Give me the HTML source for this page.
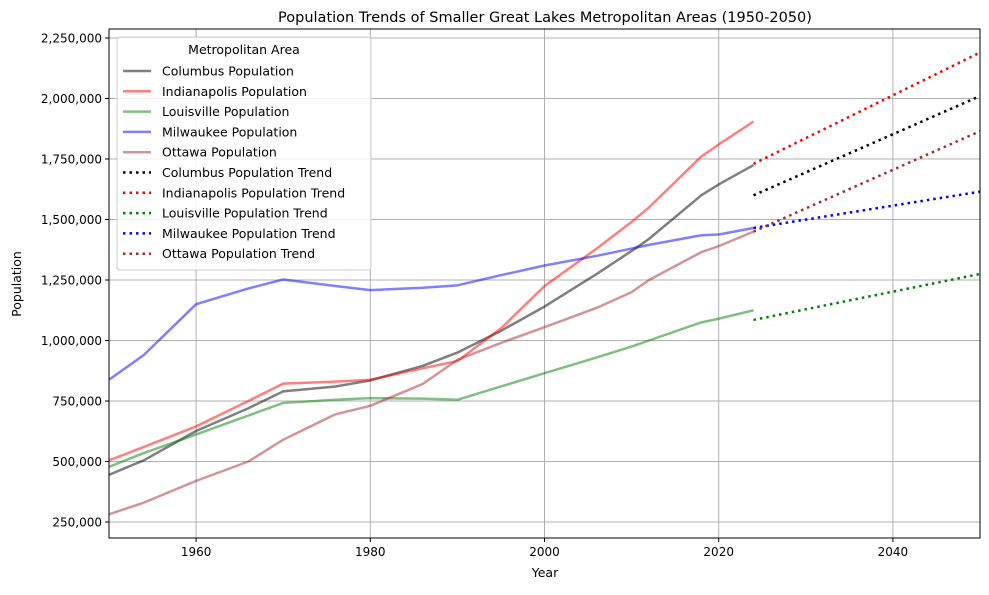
<!DOCTYPE html>
<html><head><meta charset="utf-8"><style>
body{margin:0;background:#fff;font-family:"Liberation Sans","DejaVu Sans",sans-serif}
svg text{font-family:"DejaVu Sans","Liberation Sans",sans-serif}
</style></head><body>
<svg id="c" width="989" height="590"></svg>
<script>
const years=[1950,1954,1960,1966,1970,1976,1980,1986,1990,1995,2000,2006,2010,2012,2018,2020,2024];
const columbus=[445000,505000,626000,720000,790000,810000,835000,895000,950000,1040000,1140000,1275000,1370000,1420000,1600000,1645000,1725000];
const indianapolis=[505000,560000,645000,750000,822000,830000,838000,885000,915000,1050000,1225000,1380000,1490000,1550000,1760000,1810000,1905000];
const louisville=[478000,535000,612000,690000,742000,755000,762000,760000,755000,810000,865000,930000,975000,1000000,1075000,1090000,1125000];
const milwaukee=[838000,940000,1150000,1215000,1252000,1225000,1208000,1218000,1228000,1270000,1310000,1350000,1380000,1395000,1435000,1438000,1465000];
const ottawa=[282000,330000,420000,500000,590000,695000,730000,820000,920000,990000,1055000,1135000,1200000,1250000,1365000,1390000,1450000];
const trendYears=[2024,2050];
const colTrend=[1600000,2010000];
const indTrend=[1730000,2190000];
const louTrend=[1085000,1275000];
const milTrend=[1465000,1615000];
const otwTrend=[1450000,1865000];
const yTicks=[250000,500000,750000,1000000,1250000,1500000,1750000,2000000,2250000];
const xTicks=[1960,1980,2000,2020,2040];

const L=109,R=980,T=29,B=538;
const x=v=>L+(v-1950)/100*(R-L);
const y=v=>522-(v-250000)*484/2000000;
const svg=document.getElementById('c');
const NS='http://www.w3.org/2000/svg';
function mk(t,a,p){const e=document.createElementNS(NS,t);for(const k in a)e.setAttribute(k,a[k]);(p||svg).appendChild(e);return e;}
const fmt=v=>v.toLocaleString('en-US');

xTicks.forEach(t=>{const g=mk('line',{x1:x(t),x2:x(t),y1:T,y2:B,stroke:'#b0b0b0','stroke-width':1});


const tl=mk('text',{x:x(t),y:556,'text-anchor':'middle','font-size':12});tl.textContent=t;


mk('line',{x1:x(t),x2:x(t),y1:B,y2:B+4,stroke:'#000'});});
yTicks.forEach(t=>{const g=mk('line',{x1:L,x2:R,y1:y(t),y2:y(t),stroke:'#b0b0b0','stroke-width':1});


const tl=mk('text',{x:102,y:y(t)+4.5,'text-anchor':'end','font-size':12});tl.textContent=fmt(t);


mk('line',{x1:L-4,x2:L,y1:y(t),y2:y(t),stroke:'#000'});});

const series=[['Columbus',columbus,colTrend,'rgba(0,0,0,0.5)','#000'],
['Indianapolis',indianapolis,indTrend,'rgba(255,0,0,0.5)','#f00'],
['Louisville',louisville,louTrend,'rgba(0,128,0,0.5)','#008000'],
['Milwaukee',milwaukee,milTrend,'rgba(0,0,255,0.5)','#00f'],
['Ottawa',ottawa,otwTrend,'rgba(165,42,42,0.5)','#a52a2a']];
const clip=mk('clipPath',{id:'pc'});mk('rect',{x:L,y:T,width:R-L,height:B-T},clip);
series.forEach(s=>{
const p=mk('polyline',{points:years.map((yr,i)=>x(yr)+','+y(s[1][i])).join(' '),fill:'none',stroke:s[3],'stroke-width':2.5,'stroke-linejoin':'round','clip-path':'url(#pc)'});


});
series.forEach(s=>{
const p=mk('polyline',{points:trendYears.map((yr,i)=>x(yr)+','+y(s[2][i])).join(' '),fill:'none',stroke:s[4],'stroke-width':2.5,'stroke-dasharray':'2.5 4','clip-path':'url(#pc)'});


});
const fr=mk('rect',{x:L,y:T,width:R-L,height:B-T,fill:'none',stroke:'#000','stroke-width':1});



const lg=mk('g',{});


mk('rect',{x:117,y:37,width:254,height:233,rx:3,fill:'rgba(255,255,255,0.8)',stroke:'#ccc'},lg);
const lt=mk('text',{x:244,y:54,'text-anchor':'middle','font-size':12.5},lg);lt.textContent='Metropolitan Area';


const entries=[];series.forEach(s=>entries.push([s[0]+' Population',s[3],null]));series.forEach(s=>entries.push([s[0]+' Population Trend',s[4],'2.5 4']));
entries.forEach((e,i)=>{const yy=71+i*20.3;
const g=mk('g',{},lg);


const a={x1:123,x2:151,y1:yy,y2:yy,stroke:e[1],'stroke-width':2.5};if(e[2])a['stroke-dasharray']=e[2];mk('line',a,g);
const t=mk('text',{x:162,y:yy+4.5,'font-size':12.5},g);t.textContent=e[0];});

const tt=mk('text',{x:545,y:22,'text-anchor':'middle','font-size':14.5});tt.textContent='Population Trends of Smaller Great Lakes Metropolitan Areas (1950-2050)';


const xl=mk('text',{x:545,y:577,'text-anchor':'middle','font-size':12.5});xl.textContent='Year';


const yl=mk('text',{x:21,y:284,'text-anchor':'middle','font-size':12.5,transform:'rotate(-90 21 284)'});yl.textContent='Population';


</script>
</body></html>
